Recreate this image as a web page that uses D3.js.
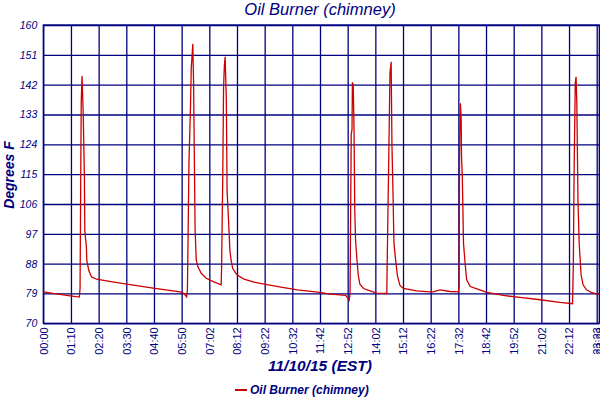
<!DOCTYPE html>
<style>
body { margin: 0; background: #fff; }
text { font-family: "Liberation Sans", Arial, sans-serif; fill: #000080; }
.grid line { stroke: #000080; stroke-width: 1.3; }
.grid .domain { display: none; }
</style>
<svg id="chart" width="600" height="400"></svg>
<script src="https://d3js.org/d3.v7.min.js"></script>
<script>

var tickLabels = ["00:00","01:10","02:20","03:30","04:40","05:50","07:02","08:12","09:22","10:32",
  "11:42","12:52","14:02","15:12","16:22","17:32","18:42","19:52","21:02","22:12","23:23","23:28"];
var yTicks = [70, 79, 88, 97, 106, 115, 124, 133, 142, 151, 160];

var times = ["00:00","00:25","01:08","01:31","01:33","01:35","01:36","01:38","01:41","01:44","01:45","01:49","01:50","01:55","02:02","02:15","02:40","03:31","04:38","05:46","05:56","06:03",
  "06:05","06:09","06:13","06:15","06:17","06:19","06:21","06:23","06:25","06:28","06:32","06:41","06:54","07:12","07:32",
  "07:33","07:36","07:38","07:40","07:42","07:45","07:47","07:51","07:54","07:57","08:01","08:11","08:20","08:30","08:55","09:21","10:03","10:45","11:36","12:09","12:47","12:56",
  "12:58","13:01","13:03","13:04","13:06","13:08","13:10","13:12","13:16","13:19","13:23","13:32","13:49","14:05","14:31",
  "14:32","14:36","14:39","14:42","14:44","14:47","14:49","14:53","14:58","15:04","15:13","15:47","16:20","16:25","16:46","17:11","17:32",
  "17:34","17:35","17:37","17:39","17:40","17:42","17:45","17:49","17:53","18:02","18:19","18:44","19:26","20:08","20:59","21:49","22:21",
  "22:23","22:25","22:28","22:30","22:32","22:35","22:38","22:43","22:48","22:57","23:09","23:22","23:28"];
var temps = [79.5,79.0,78.3,77.9,80.5,119.3,137,144.6,133,114,98,93,89,86,84,83.3,82.8,81.8,80.6,79.5,79,78,
  80,118.3,135.4,147,150.5,154.3,143,120.3,98.2,89.1,87.1,85.1,83.6,82.6,81.6,
  86.6,114.3,141,147.6,150.4,137.5,109.8,100.2,92,89.1,86.6,84.8,84.0,83.3,82.4,81.8,80.9,80.1,79.4,78.8,78.4,77.0,
  79.3,127,128.5,142.7,142,129.5,103.9,94.9,88.4,84.3,81.8,80.5,79.8,79.1,79.0,
  88.4,120.3,145.4,148.9,123.8,107.4,94.4,89.4,84.3,81.5,80.5,79.8,79.5,79.4,80.1,79.6,79.5,
  81.1,120.3,136.4,132.4,120.3,114.3,94.2,88.2,83.1,81.1,80.4,79.3,78.4,77.8,77.1,76.3,75.9,
  87.7,115.8,142.4,144.4,136.4,106.8,94.2,84.6,81.6,80.1,79.3,78.9,78.8];

function toMin(s) { return +s.slice(0, 2) * 60 + +s.slice(3); }

var svg = d3.select("#chart");
var plotLeft = 43.3, plotTop = 25, plotBottom = 323.3, step = 27.67;

var tickMins = tickLabels.map(toMin);
// the axis is spaced per label, not per minute
var tickPos = tickMins.map(function(m, i) {
  var idx = i <= 20 ? i : 20 + (m - tickMins[20]) / 70 * 1.3;
  return plotLeft + idx * step;
});
var plotRight = tickPos[tickPos.length - 1];
var x = d3.scaleLinear().domain(tickMins).range(tickPos);
var y = d3.scaleLinear().domain([70, 160]).range([plotBottom, plotTop]);

svg.append("g")
    .attr("class", "grid")
    .attr("transform", "translate(" + plotLeft + ",0)")
    .call(d3.axisLeft(y).tickValues(yTicks).tickSize(-(plotRight - plotLeft)).tickPadding(6))
  .selectAll("text")
    .attr("font-size", 10.5)
    .attr("font-style", "italic");

var xg = svg.append("g")
    .attr("class", "grid")
    .attr("transform", "translate(0," + plotBottom + ")")
    .call(d3.axisBottom(x).tickValues(tickMins)
      .tickFormat(function(d, i) { return tickLabels[i]; })
      .tickSize(-(plotBottom - plotTop)));
xg.selectAll("text")
    .attr("font-size", 11)
    .attr("transform", "rotate(-90)")
    .attr("x", -4)
    .attr("y", 0)
    .attr("dy", "0.35em")
    .style("text-anchor", "end");

svg.append("rect")
    .attr("x", plotLeft).attr("y", plotTop)
    .attr("width", plotRight - plotLeft).attr("height", plotBottom - plotTop)
    .attr("fill", "none").attr("stroke", "#000080").attr("stroke-width", 1.3);

var line = d3.line()
    .x(function(d, i) { return x(toMin(times[i])); })
    .y(function(d) { return y(d); });

svg.append("path")
    .datum(temps)
    .attr("fill", "none")
    .attr("stroke", "#cc0000")
    .attr("stroke-width", 1.3)
    .attr("d", line);

svg.append("text")
    .attr("x", 320).attr("y", 15)
    .attr("text-anchor", "middle")
    .attr("font-size", 16.5)
    .attr("font-style", "italic")
    .text("Oil Burner (chimney)");

svg.append("text")
    .attr("transform", "translate(14,175) rotate(-90)")
    .attr("text-anchor", "middle")
    .attr("font-size", 14)
    .attr("font-weight", "bold")
    .attr("font-style", "italic")
    .text("Degrees F");

svg.append("text")
    .attr("x", 320).attr("y", 371)
    .attr("text-anchor", "middle")
    .attr("font-size", 15.5)
    .attr("font-weight", "bold")
    .attr("font-style", "italic")
    .text("11/10/15 (EST)");

var legend = svg.append("g").attr("transform", "translate(235,390)");
legend.append("line")
    .attr("x1", 0).attr("x2", 12)
    .attr("stroke", "#cc0000").attr("stroke-width", 2);
legend.append("text")
    .attr("x", 15).attr("dy", "0.35em")
    .attr("font-size", 12)
    .attr("font-weight", "bold")
    .attr("font-style", "italic")
    .text("Oil Burner (chimney)");

</script>
